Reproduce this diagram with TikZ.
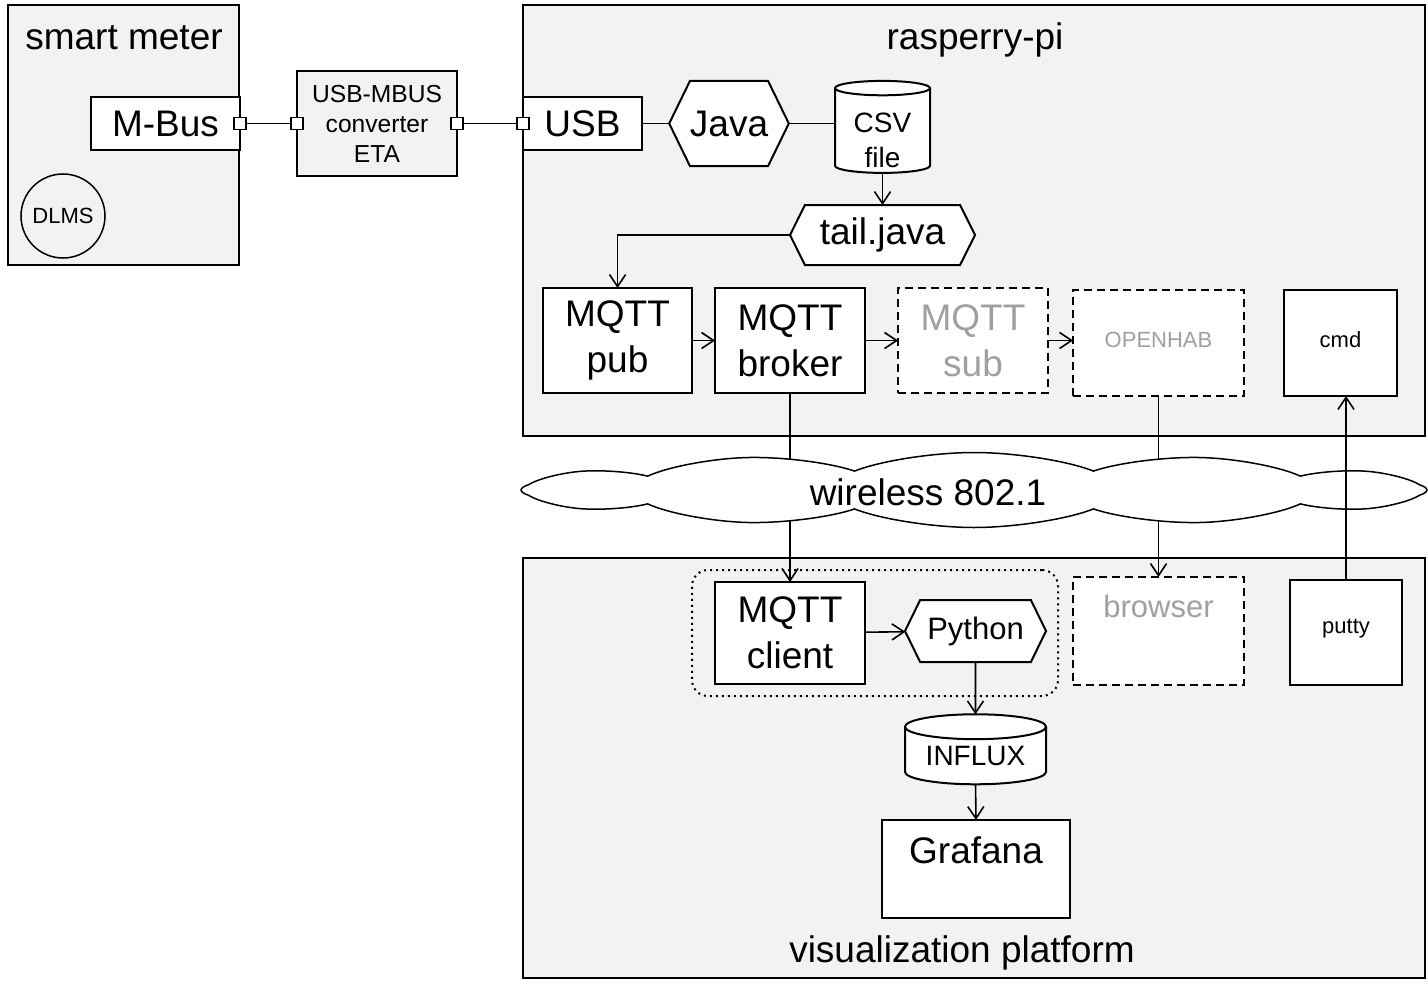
\documentclass[tikz,border=0pt]{standalone}
\usepackage{fontspec}
\setmainfont{Liberation Sans}
\usetikzlibrary{arrows.meta,shapes.geometric,shapes.symbols,positioning}

\definecolor{panel}{HTML}{F2F2F2}
\definecolor{faded}{HTML}{A0A0A0}

\newcommand{\szbig}{\fontsize{18.5}{23}\selectfont}
\newcommand{\szpy}{\fontsize{15.5}{19}\selectfont}
\newcommand{\szdb}{\fontsize{14}{17.5}\selectfont}
\newcommand{\szconv}{\fontsize{12.3}{15}\selectfont}
\newcommand{\szsmall}{\fontsize{11}{13}\selectfont}
\newcommand{\lowered}[2]{\raisebox{#1}[\height][\depth]{#2}}

\begin{document}
\begin{tikzpicture}[x=0.5pt,y=-0.5pt,>={Straight Barb[length=6pt,width=8pt]},
                    every node/.style={inner sep=0pt,outer sep=0pt}]
  \tikzstyle{group}=[draw,line width=1pt,fill=panel]
  \tikzstyle{box}=[draw,line width=1pt,fill=white,align=center]
  \tikzstyle{dashbox}=[box,dash pattern=on 4pt off 2.5pt,text=faded]
  \tikzstyle{hexa}=[draw,line width=1pt,fill=white,signal,signal to=east and west,signal pointer angle=128]
  \tikzstyle{db}=[draw,line width=1pt,fill=white,cylinder,shape border rotate=90,aspect=0.25,align=center]
  \tikzstyle{port}=[draw,line width=0.75pt,fill=white,minimum size=6pt]
  \tikzstyle{conn}=[line width=0.8pt]

  \useasboundingbox (0,0) rectangle (1428,995);

  % smart meter
  \node[group, minimum width=115.5pt, minimum height=130pt] (meter) at (123.5,135) {};
  \node[anchor=base, font=\szbig] (metertitle) at (124,50) {smart meter};
  \node[box, minimum width=74.5pt, minimum height=26.5pt, font=\szbig] (mbus) at (165.5,123.5) {M-Bus};
  \node[draw, circle, line width=0.75pt, minimum size=42pt, font=\szsmall] (dlms) at (63,216) {DLMS};

  % converter
  \node[group, minimum width=80pt, minimum height=52.5pt, align=center, font=\szconv] (conv) at (377,123.5) {USB-MBUS\\converter\\ETA};

  % rasperry-pi
  \node[group, minimum width=451pt, minimum height=215.5pt] (pi) at (974,220.5) {};
  \node[anchor=base, font=\szbig] (pititle) at (975,50) {rasperry-pi};
  \node[box, minimum width=59.5pt, minimum height=26.5pt, font=\szbig] (usb) at (582.5,123.5) {USB};
  \node[hexa, minimum width=59pt, minimum height=42.5pt, font=\szbig] (java) at (729,123.5) {Java};
  \node[db, minimum width=47.5pt, minimum height=46pt, font=\szdb] (csv) at (882.5,131) {\lowered{-4.5pt}{CSV}\\\lowered{-4.5pt}{file}};
  \node[hexa, minimum width=92.5pt, minimum height=30pt, signal pointer angle=127, font=\szbig] (tail) at (882.5,235) {tail.java};
  \node[box, minimum width=74.5pt, minimum height=52.5pt, font=\szbig] (pub) at (617.5,340.5) {MQTT\\pub};
  \node[box, minimum width=75pt, minimum height=52.5pt, font=\szbig] (broker) at (790,340.5) {MQTT\\broker};
  \node[dashbox, minimum width=75pt, minimum height=52.5pt, font=\szbig] (sub) at (973,340.5) {MQTT\\sub};
  \node[dashbox, minimum width=85.5pt, minimum height=53pt, font=\szsmall] (openhab) at (1158.5,343) {\lowered{1.5pt}{OPENHAB}};
  \node[box, minimum width=56.5pt, minimum height=53pt, font=\szsmall] (cmd) at (1340.5,343) {\lowered{1.5pt}{cmd}};

  % visualization platform
  \node[group, minimum width=451pt, minimum height=210pt] (vis) at (974,768) {};
  \node[anchor=base, font=\szbig] (vistitle) at (962,962) {visualization platform};
  \node[draw, dotted, line width=1pt, rounded corners=8pt, minimum width=183pt, minimum height=63pt] (pygroup) at (875,633) {};
  \node[box, minimum width=75pt, minimum height=51pt, font=\szbig] (client) at (790,633) {MQTT\\client};
  \node[hexa, minimum width=70.5pt, minimum height=31pt, font=\szpy] (python) at (975.5,631) {Python};
  \node[db, minimum width=70.5pt, minimum height=35pt, font=\szdb] (influx) at (975.5,756) {INFLUX};
  \node[box, minimum width=94pt, minimum height=49pt, font=\szbig] (grafana) at (976,869) {\lowered{9.5pt}{Grafana}};
  \node[dashbox, minimum width=85.5pt, minimum height=54pt, font=\szpy] (browser) at (1158.5,631) {\lowered{12.5pt}{browser}};
  \node[box, minimum width=56pt, minimum height=52.5pt, font=\szsmall] (putty) at (1346,632.5) {\lowered{2pt}{putty}};

  % ports
  \node[port] (p1) at (mbus.east) {};
  \node[port] (p2) at (conv.west) {};
  \node[port] (p3) at (conv.east) {};
  \node[port] (p4) at (usb.west) {};
  \draw[conn] (p1) -- (p2);
  \draw[conn] (p3) -- (p4);

  \draw[conn] (usb.east) -- (java.west);
  \draw[conn] (java.east) -- (java.east -| csv.west);
  \draw[conn,->] (csv.south) -- (tail.north);
  \draw[conn,->] (tail.west) -| (pub.north);
  \draw[conn,->] (pub) -- (broker);
  \draw[conn,->] (broker) -- (sub);
  \draw[conn,->] (sub.east) -- (sub.east -| openhab.west);
  \draw[conn,->] (broker.south) -- (client.north);
  \draw[conn,->] (openhab.south) -- (browser.north);

  % network
  \begin{scope}[shift={(974,490)}]
    \node[cloud, draw, fill=white, line width=0.75pt, cloud puffs=12, cloud puff arc=100, aspect=3,
          minimum width=151pt, minimum height=37.5pt, xscale=3, transform shape] (wlan) at (0,0) {};
  \end{scope}
  \node[font=\szbig] (wlantext) at (928,492) {wireless 802.1};

  \draw[conn,->] (putty.north) -- (putty.north |- cmd.south);
  \draw[conn,->] (client) -- (python);
  \draw[conn,->] (python.south) -- (influx.north);
  \draw[conn,->] (influx.south) -- (grafana.north);
\end{tikzpicture}
\end{document}
